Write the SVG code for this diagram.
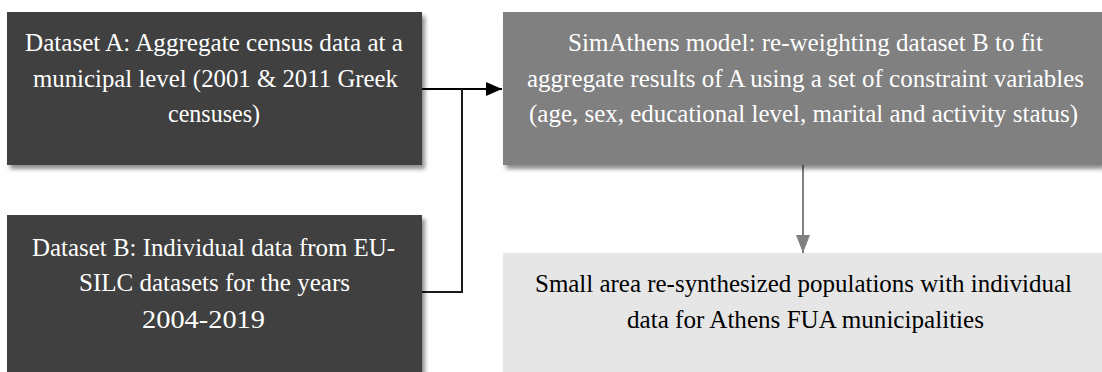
<svg xmlns="http://www.w3.org/2000/svg" width="1102" height="372" viewBox="0 0 1102 372">
<style>
.t{font-family:"Liberation Serif","Times New Roman",serif;font-size:24.5px;}
.w{fill:#ffffff;}
.k{fill:#000000;}
.ln{fill:none;stroke-width:2;}
</style>
<defs>
<filter id="sh" x="-5%" y="-10%" width="115%" height="130%">
<feDropShadow dx="3" dy="4" stdDeviation="2" flood-color="#000" flood-opacity="0.45"/>
</filter>
<marker id="ab" markerUnits="userSpaceOnUse" markerWidth="16" markerHeight="16" viewBox="0 0 16 16" refX="16" refY="8" orient="auto">
<path d="M0,1 L16,8 L0,15 z" fill="#000"/>
</marker>
<marker id="ag" markerUnits="userSpaceOnUse" markerWidth="18" markerHeight="14" viewBox="0 0 18 14" refX="18" refY="7" orient="auto">
<path d="M0,0 L18,7 L0,14 z" fill="#808080"/>
</marker>
</defs>
<rect width="1102" height="372" fill="#ffffff"/>
<g id="connectors">
<path class="ln" d="M422,89 H502" stroke="#000" marker-end="url(#ab)"/>
<path class="ln" d="M422,292 H462 V89" stroke="#1a1a1a"/>
<path class="ln" d="M803,165 V253" stroke="#808080" marker-end="url(#ag)"/>
</g>
<g id="datasetA">
<rect x="7" y="12" width="415" height="153" fill="#404040" filter="url(#sh)"/>
<text class="t w" x="25" y="51" textLength="378" lengthAdjust="spacingAndGlyphs">Dataset A: Aggregate census data at a</text>
<text class="t w" x="33" y="87" textLength="365" lengthAdjust="spacingAndGlyphs">municipal level (2001 &amp; 2011 Greek</text>
<text class="t w" x="168" y="122" textLength="92" lengthAdjust="spacingAndGlyphs">censuses)</text>
</g>
<g id="datasetB">
<rect x="7" y="215" width="415" height="157" fill="#404040" filter="url(#sh)"/>
<text class="t w" x="32" y="256" textLength="363" lengthAdjust="spacingAndGlyphs">Dataset B: Individual data from EU-</text>
<text class="t w" x="79" y="291" textLength="271" lengthAdjust="spacingAndGlyphs">SILC datasets for the years</text>
<text class="t w" x="142" y="328" textLength="123" lengthAdjust="spacingAndGlyphs">2004-2019</text>
</g>
<g id="simathens">
<rect x="503" y="12" width="599" height="153" fill="#808080" filter="url(#sh)"/>
<text class="t w" x="568" y="51" textLength="475" lengthAdjust="spacingAndGlyphs">SimAthens model: re-weighting dataset B to fit</text>
<text class="t w" x="527" y="87" textLength="557" lengthAdjust="spacingAndGlyphs">aggregate results of A using a set of constraint variables</text>
<text class="t w" x="529" y="122" textLength="549" lengthAdjust="spacingAndGlyphs">(age, sex, educational level, marital and activity status)</text>
</g>
<g id="output">
<rect x="503" y="253" width="599" height="119" fill="#e6e6e6" filter="url(#sh)"/>
<text class="t k" x="535" y="292" textLength="537" lengthAdjust="spacingAndGlyphs">Small area re-synthesized populations with individual</text>
<text class="t k" x="627" y="328" textLength="357" lengthAdjust="spacingAndGlyphs">data for Athens FUA municipalities</text>
</g>
</svg>
